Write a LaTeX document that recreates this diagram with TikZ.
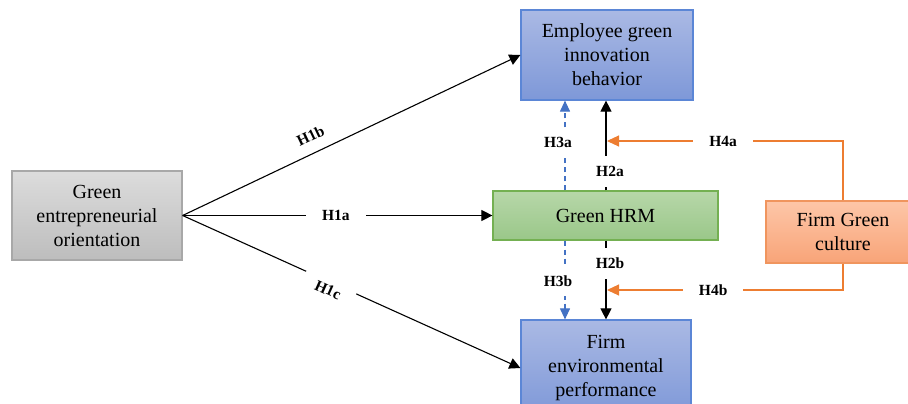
\documentclass[tikz,border=0pt]{standalone}
\usepackage{fontspec}
\setmainfont{Liberation Serif}
\usetikzlibrary{arrows.meta}
\definecolor{grayT}{HTML}{DCDCDC}
\definecolor{grayB}{HTML}{BDBDBD}
\definecolor{grayD}{HTML}{A8A8A8}
\definecolor{blueT}{HTML}{AAB9E4}
\definecolor{blueB}{HTML}{7E98D8}
\definecolor{blueD}{HTML}{5B86D6}
\definecolor{greenT}{HTML}{B7D7A9}
\definecolor{greenB}{HTML}{9AC789}
\definecolor{greenD}{HTML}{74B052}
\definecolor{orT}{HTML}{FDC6A8}
\definecolor{orB}{HTML}{F8A478}
\definecolor{orD}{HTML}{F0955E}
\definecolor{orL}{HTML}{ED7D31}
\definecolor{bluL}{HTML}{4472C4}
\begin{document}
\begin{tikzpicture}[x=1pt,y=-1pt,
  box/.style={draw, line width=1.2pt, align=center, inner sep=0pt,
    font=\fontsize{20}{24}\selectfont},
  graybox/.style={box, draw=grayD, top color=grayT, bottom color=grayB},
  bluebox/.style={box, draw=blueD, top color=blueT, bottom color=blueB},
  greenbox/.style={box, draw=greenD, top color=greenT, bottom color=greenB},
  orbox/.style={box, draw=orD, top color=orT, bottom color=orB},
  lab/.style={font=\bfseries\fontsize{15.5}{18}\selectfont, text=black},
  hlab/.style={lab, fill=white, inner xsep=16pt, inner ysep=6pt},
  vlab/.style={lab, fill=white, inner xsep=4pt, inner ysep=10pt},
  blk/.style={black, line width=1.1pt, -{Triangle[length=11pt,width=11pt]}},
  org/.style={orL, line width=1.1pt, -{Triangle[length=12pt,width=11pt]}},
  blu/.style={bluL, line width=1.1pt, dash pattern=on 5pt off 4pt,
    -{Triangle[length=11pt,width=10pt]}}
]
\useasboundingbox (0,0) rectangle (908,404);

\node[graybox, minimum width=170pt, minimum height=89pt] (geo) at (97,215.5)
  {Green\\entrepreneurial\\orientation};
\node[bluebox, minimum width=172pt, minimum height=90pt] (egib) at (607,55)
  {Employee green\\innovation\\behavior};
\node[greenbox, minimum width=225pt, minimum height=49pt] (hrm) at (605.5,215.5)
  {Green HRM};
\node[bluebox, minimum width=170pt, minimum height=96pt] (fep) at (606,368)
  {Firm\\environmental\\performance};
\node[orbox, minimum width=154pt, minimum height=62pt] (fgc) at (843,232)
  {Firm Green\\culture};

\coordinate (c2) at (606,0);
\coordinate (c3) at (565,0);
\coordinate (a4) at (607,141);
\coordinate (b4) at (607,290);

% H1 paths
\draw[blk] (geo.east) -- node[lab, pos=0.40, sloped, yshift=17pt] {H1b} (egib.west);
\draw[blk] (geo.east) -- node[hlab, pos=0.495] {H1a} (hrm.west);
\draw[blk] (geo.east) -- node[lab, fill=white, inner xsep=14pt, inner ysep=6pt,
  pos=0.44, sloped, yshift=-8pt] {H1c} (fep.west);

% H2 paths
\draw[blk] (hrm.north -| c2) -- node[vlab, pos=0.21, xshift=4pt] {H2a} (egib.south -| c2);
\draw[blk] (hrm.south -| c2) -- node[vlab, pos=0.29, xshift=4pt] {H2b} (fep.north -| c2);

% H3 paths
\draw[blu] (hrm.north -| c3) -- node[vlab, pos=0.53, xshift=-7pt] {H3a} (egib.south -| c3);
\draw[blu] (hrm.south -| c3) -- node[vlab, pos=0.51, xshift=-7pt] {H3b} (fep.north -| c3);

% H4 paths
\draw[org] (fgc.north) |- node[hlab, pos=0.754] {H4a} (a4);
\draw[org] (fgc.south) |- node[hlab, pos=0.775] {H4b} (b4);
\end{tikzpicture}
\end{document}
